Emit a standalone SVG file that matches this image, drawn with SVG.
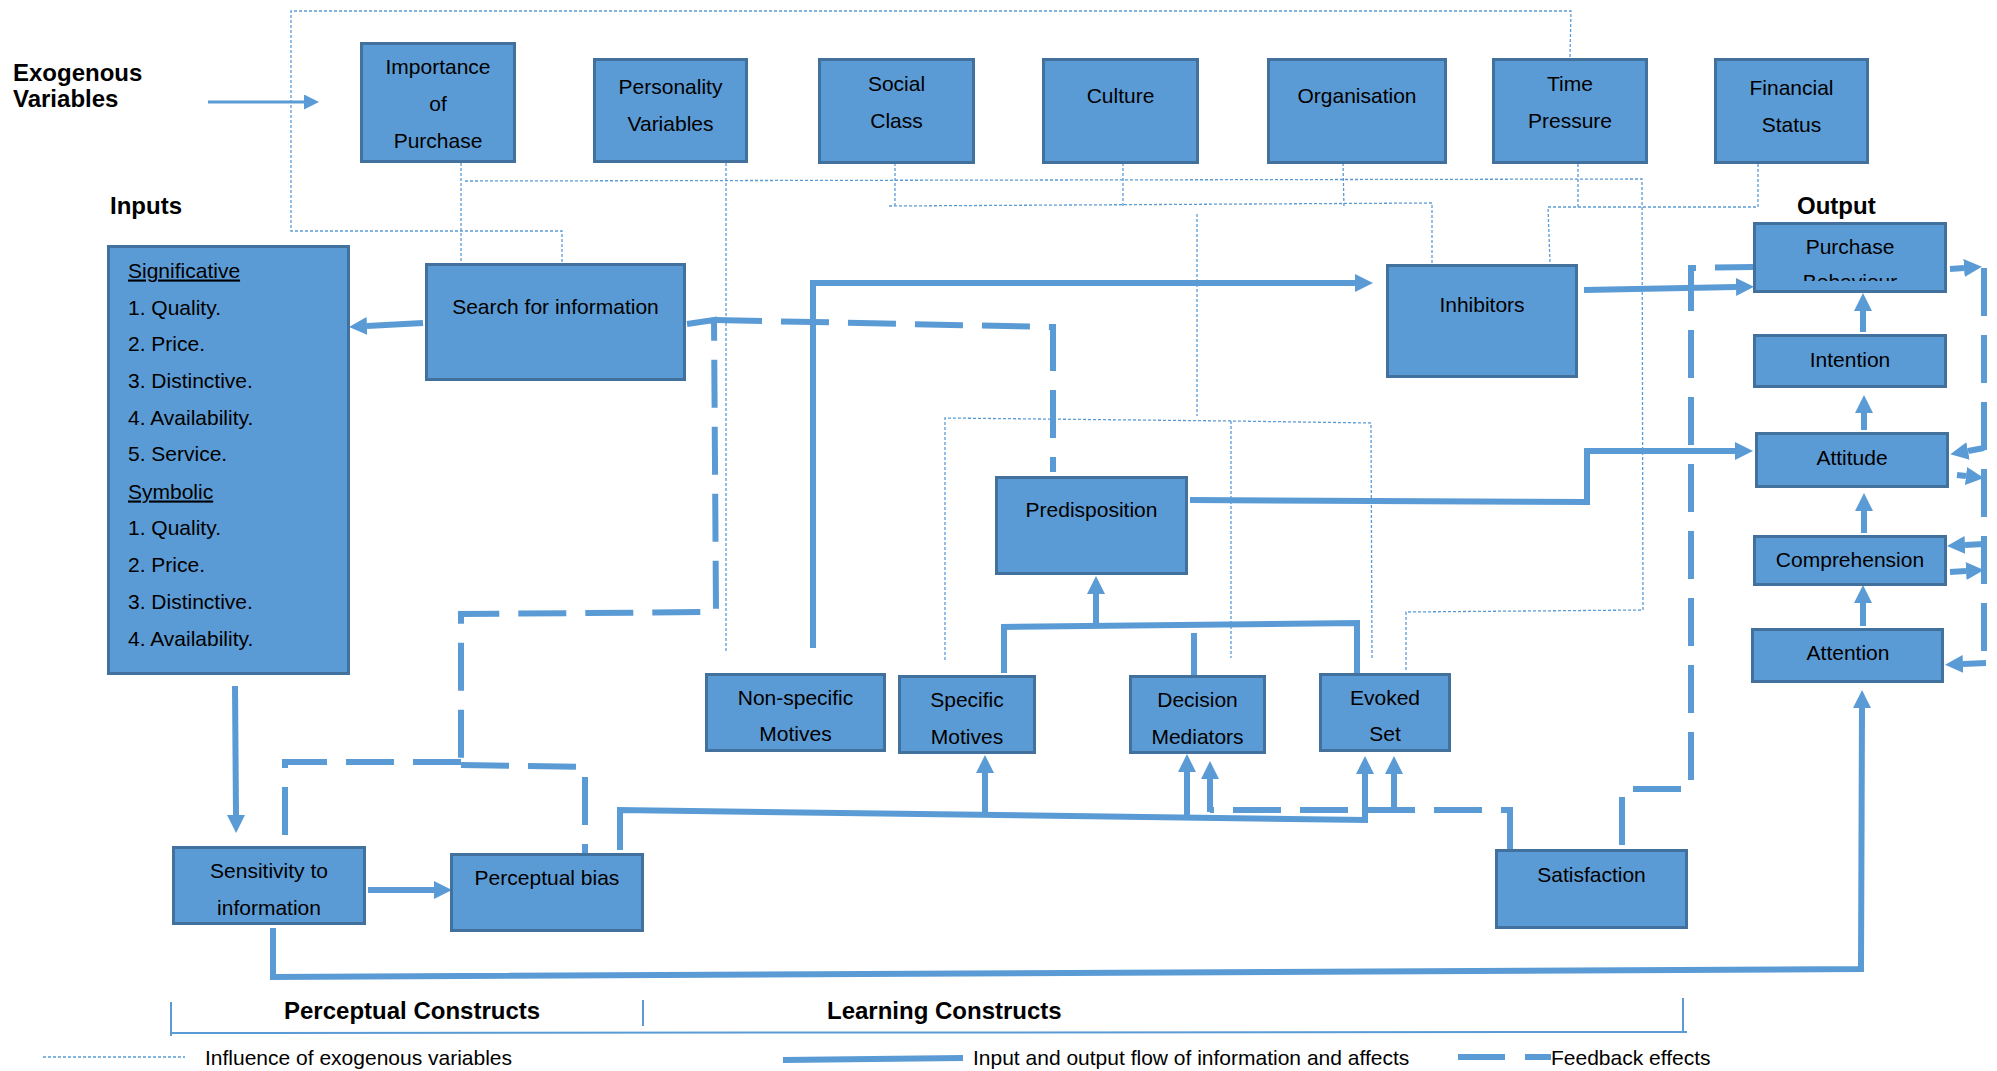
<svg xmlns="http://www.w3.org/2000/svg" width="1997" height="1071" viewBox="0 0 1997 1071">
  <style>
    .box { fill: #5B9BD5; stroke: #41719C; stroke-width: 3; }
    text { font-family: "Liberation Sans", Arial, sans-serif; font-size: 21px; fill: #000; }
    .c { text-anchor: middle; }
    .lbl { font-weight: bold; font-size: 24px; }
    .u { text-decoration: underline; }
    .flow { fill: none; stroke: #5B9BD5; stroke-width: 6; }
    .thin { fill: none; stroke: #5B9BD5; stroke-width: 3; }
    .fb { fill: none; stroke: #5B9BD5; stroke-width: 6; stroke-dasharray: 48 19; }
    .inf { fill: none; stroke: #5B9BD5; stroke-width: 1.3; stroke-dasharray: 3 2; }
    .rule { fill: none; stroke: #5B9BD5; stroke-width: 2; }
  </style>
  <defs>
    <marker id="ah" markerUnits="userSpaceOnUse" viewBox="0 0 18 18" markerWidth="18" markerHeight="18" refX="0" refY="9" orient="auto">
      <path d="M0,0 L18,9 L0,18 z" fill="#5B9BD5"/>
    </marker>
    <marker id="ahs" markerUnits="userSpaceOnUse" viewBox="0 0 15 15" markerWidth="15" markerHeight="15" refX="0" refY="7.5" orient="auto">
      <path d="M0,0 L15,7.5 L0,15 z" fill="#5B9BD5"/>
    </marker>
    <clipPath id="purchClip">
      <rect x="1754" y="222" width="193" height="59"/>
    </clipPath>
  </defs>

  <rect width="1997" height="1071" fill="#fff"/>

  <!-- free labels -->
  <g id="labels">
    <text class="lbl" x="13" y="80.5">Exogenous</text>
    <text class="lbl" x="13" y="106.5">Variables</text>
    <text class="lbl" x="110" y="213.5">Inputs</text>
    <text class="lbl" x="1797" y="213.5">Output</text>
    <text class="lbl" x="284" y="1018.5">Perceptual Constructs</text>
    <text class="lbl" x="827" y="1018.5">Learning Constructs</text>
  </g>

  <!-- connectors -->
  <g id="connectors">
    <!-- influence of exogenous variables (dotted) -->
    <path class="inf" d="M1570 57 L1571 11 L291 11 L291 231 L562 231 L562 263"/>
    <path class="inf" d="M461 163 L461 263"/>
    <path class="inf" d="M465 181 L1642 179 L1643 610 L1406 612 L1406 671"/>
    <path class="inf" d="M726 163 L726 653"/>
    <path class="inf" d="M895 163 L895 206 M1123 163 L1123 207 M1343 163 L1344 208 M889 206 L1432 203 L1432 263"/>
    <path class="inf" d="M1197 214 L1197 416 M945 660 L945 418 L1231 421 L1371 423 L1372 658 M1231 421 L1231 658"/>
    <path class="inf" d="M1578 164 L1578 207 M1758 164 L1758 207 L1548 207 L1550 263"/>

    <!-- exogenous arrow -->
    <path class="thin" d="M208 102 L304 102" marker-end="url(#ahs)"/>

    <!-- input and output flow (solid) -->
    <path class="flow" d="M423 323 L367 326" marker-end="url(#ah)"/>
    <path class="flow" d="M235 686 L236 815" marker-end="url(#ah)"/>
    <path class="flow" d="M368 890 L434 890" marker-end="url(#ah)"/>
    <path class="flow" d="M273 928 L273 977 L1861 969 L1862 708" marker-end="url(#ah)"/>
    <path class="flow" d="M620 850 L620 810 L1365 820 L1365 774" marker-end="url(#ah)"/>
    <path class="flow" d="M985 813 L985 773" marker-end="url(#ah)"/>
    <path class="flow" d="M1187 815 L1187 772" marker-end="url(#ah)"/>
    <path class="flow" d="M1004 673 L1004 627 L1357 623 L1357 674"/>
    <path class="flow" d="M1194 675 L1194 633"/>
    <path class="flow" d="M1096 626 L1096 594" marker-end="url(#ah)"/>
    <path class="flow" d="M813 648 L813 283 L1355 283" marker-end="url(#ah)"/>
    <path class="flow" d="M1190 500 L1587 502 L1587 451 L1735 451" marker-end="url(#ah)"/>
    <path class="flow" d="M1584 290 L1736 287" marker-end="url(#ah)"/>
    <path class="flow" d="M1863 332 L1863 311" marker-end="url(#ah)"/>
    <path class="flow" d="M1864 430 L1864 413" marker-end="url(#ah)"/>
    <path class="flow" d="M1864 533 L1864 511" marker-end="url(#ah)"/>
    <path class="flow" d="M1863 626 L1863 603" marker-end="url(#ah)"/>

    <!-- feedback effects (dashed) -->
    <path class="fb" d="M687 324 L714 320 L716 612 L461 614 L461 762"/>
    <path class="fb" d="M461 762 L285 762 L285 846"/>
    <path class="fb" d="M461 765 L585 767 L585 853"/>
    <path class="fb" d="M714 320 L1053 327 L1053 472"/>
    <path class="fb" d="M1510 849 L1510 810 L1210 810"/>
    <path class="flow" d="M1210 812 L1210 779" marker-end="url(#ah)"/>
    <path class="flow" d="M1394 812 L1394 774" marker-end="url(#ah)"/>
    <path class="fb" d="M1622 845 L1622 789 L1691 789 L1691 268 L1753 267"/>
    <path class="fb" d="M1984 268 L1984 450"/>
    <path class="fb" d="M1984 469 L1984 665"/>
    <path class="flow" d="M1950 269 L1964 268" marker-end="url(#ah)"/>
    <path class="flow" d="M1984 448 L1968 451" marker-end="url(#ah)"/>
    <path class="flow" d="M1957 475 L1966 476" marker-end="url(#ah)"/>
    <path class="flow" d="M1984 544 L1965 545" marker-end="url(#ah)"/>
    <path class="flow" d="M1950 572 L1966 571" marker-end="url(#ah)"/>
    <path class="flow" d="M1986 663 L1963 664" marker-end="url(#ah)"/>

    <!-- construct brackets -->
    <path class="rule" d="M171 1002 L171 1036 M171 1033 L1687 1032 M643 1000 L643 1026 M1683 998 L1683 1032"/>
  </g>

  <!-- exogenous variables -->
  <g id="importance">
    <rect class="box" x="361.5" y="43.5" width="153" height="118"/>
    <text class="c" x="438" y="73.5">Importance</text>
    <text class="c" x="438" y="110.5">of</text>
    <text class="c" x="438" y="147.5">Purchase</text>
  </g>
  <g id="personality">
    <rect class="box" x="594.5" y="59.5" width="152" height="102"/>
    <text class="c" x="670.5" y="93.5">Personality</text>
    <text class="c" x="670.5" y="130.5">Variables</text>
  </g>
  <g id="social-class">
    <rect class="box" x="819.5" y="59.5" width="154" height="103"/>
    <text class="c" x="896.5" y="90.5">Social</text>
    <text class="c" x="896.5" y="127.5">Class</text>
  </g>
  <g id="culture">
    <rect class="box" x="1043.5" y="59.5" width="154" height="103"/>
    <text class="c" x="1120.5" y="102.5">Culture</text>
  </g>
  <g id="organisation">
    <rect class="box" x="1268.5" y="59.5" width="177" height="103"/>
    <text class="c" x="1357" y="102.5">Organisation</text>
  </g>
  <g id="time-pressure">
    <rect class="box" x="1493.5" y="59.5" width="153" height="103"/>
    <text class="c" x="1570" y="90.5">Time</text>
    <text class="c" x="1570" y="127.5">Pressure</text>
  </g>
  <g id="financial-status">
    <rect class="box" x="1715.5" y="59.5" width="152" height="103"/>
    <text class="c" x="1791.5" y="94.5">Financial</text>
    <text class="c" x="1791.5" y="131.5">Status</text>
  </g>

  <!-- inputs -->
  <g id="stimuli">
    <rect class="box" x="108.5" y="246.5" width="240" height="427"/>
    <text class="u" x="128" y="277.5">Significative</text>
    <text x="128" y="314.5">1. Quality.</text>
    <text x="128" y="350.5">2. Price.</text>
    <text x="128" y="387.5">3. Distinctive.</text>
    <text x="128" y="424.5">4. Availability.</text>
    <text x="128" y="460.5">5. Service.</text>
    <text class="u" x="128" y="498.5">Symbolic</text>
    <text x="128" y="534.5">1. Quality.</text>
    <text x="128" y="571.5">2. Price.</text>
    <text x="128" y="608.5">3. Distinctive.</text>
    <text x="128" y="645.5">4. Availability.</text>
  </g>

  <!-- perceptual constructs -->
  <g id="search">
    <rect class="box" x="426.5" y="264.5" width="258" height="115"/>
    <text class="c" x="555.5" y="313.5">Search for information</text>
  </g>
  <g id="sensitivity">
    <rect class="box" x="173.5" y="847.5" width="191" height="76"/>
    <text class="c" x="269" y="877.5">Sensitivity to</text>
    <text class="c" x="269" y="914.5">information</text>
  </g>
  <g id="perceptual-bias">
    <rect class="box" x="451.5" y="854.5" width="191" height="76"/>
    <text class="c" x="547" y="884.5">Perceptual bias</text>
  </g>

  <!-- learning constructs -->
  <g id="non-specific-motives">
    <rect class="box" x="706.5" y="674.5" width="178" height="76"/>
    <text class="c" x="795.5" y="704.5">Non-specific</text>
    <text class="c" x="795.5" y="740.5">Motives</text>
  </g>
  <g id="specific-motives">
    <rect class="box" x="899.5" y="676.5" width="135" height="76"/>
    <text class="c" x="967" y="706.5">Specific</text>
    <text class="c" x="967" y="743.5">Motives</text>
  </g>
  <g id="decision-mediators">
    <rect class="box" x="1130.5" y="676.5" width="134" height="76"/>
    <text class="c" x="1197.5" y="706.5">Decision</text>
    <text class="c" x="1197.5" y="743.5">Mediators</text>
  </g>
  <g id="evoked-set">
    <rect class="box" x="1320.5" y="674.5" width="129" height="76"/>
    <text class="c" x="1385" y="704.5">Evoked</text>
    <text class="c" x="1385" y="740.5">Set</text>
  </g>
  <g id="predisposition">
    <rect class="box" x="996.5" y="477.5" width="190" height="96"/>
    <text class="c" x="1091.5" y="516.5">Predisposition</text>
  </g>
  <g id="inhibitors">
    <rect class="box" x="1387.5" y="265.5" width="189" height="111"/>
    <text class="c" x="1482" y="311.5">Inhibitors</text>
  </g>
  <g id="satisfaction">
    <rect class="box" x="1496.5" y="850.5" width="190" height="77"/>
    <text class="c" x="1591.5" y="881.5">Satisfaction</text>
  </g>

  <!-- outputs -->
  <g id="purchase-behaviour">
    <rect class="box" x="1754.5" y="223.5" width="191" height="68"/>
    <g clip-path="url(#purchClip)">
      <text class="c" x="1850" y="253.5">Purchase</text>
      <text class="c" x="1850" y="288.5">Behaviour</text>
    </g>
  </g>
  <g id="intention">
    <rect class="box" x="1754.5" y="335.5" width="191" height="51"/>
    <text class="c" x="1850" y="366.5">Intention</text>
  </g>
  <g id="attitude">
    <rect class="box" x="1756.5" y="433.5" width="191" height="53"/>
    <text class="c" x="1852" y="464.5">Attitude</text>
  </g>
  <g id="comprehension">
    <rect class="box" x="1754.5" y="536.5" width="191" height="48"/>
    <text class="c" x="1850" y="566.5">Comprehension</text>
  </g>
  <g id="attention">
    <rect class="box" x="1752.5" y="629.5" width="190" height="52"/>
    <text class="c" x="1848" y="659.5">Attention</text>
  </g>

  <!-- legend -->
  <g id="legend">
    <path class="inf" d="M43 1057 L185 1057"/>
    <text x="205" y="1064.5">Influence of exogenous variables</text>
    <path class="flow" d="M783 1060 L963 1058"/>
    <text x="973" y="1064.5">Input and output flow of information and affects</text>
    <path class="flow" d="M1458 1057 L1505 1057 M1525 1057 L1551 1057"/>
    <text x="1551" y="1064.5">Feedback effects</text>
  </g>
</svg>
